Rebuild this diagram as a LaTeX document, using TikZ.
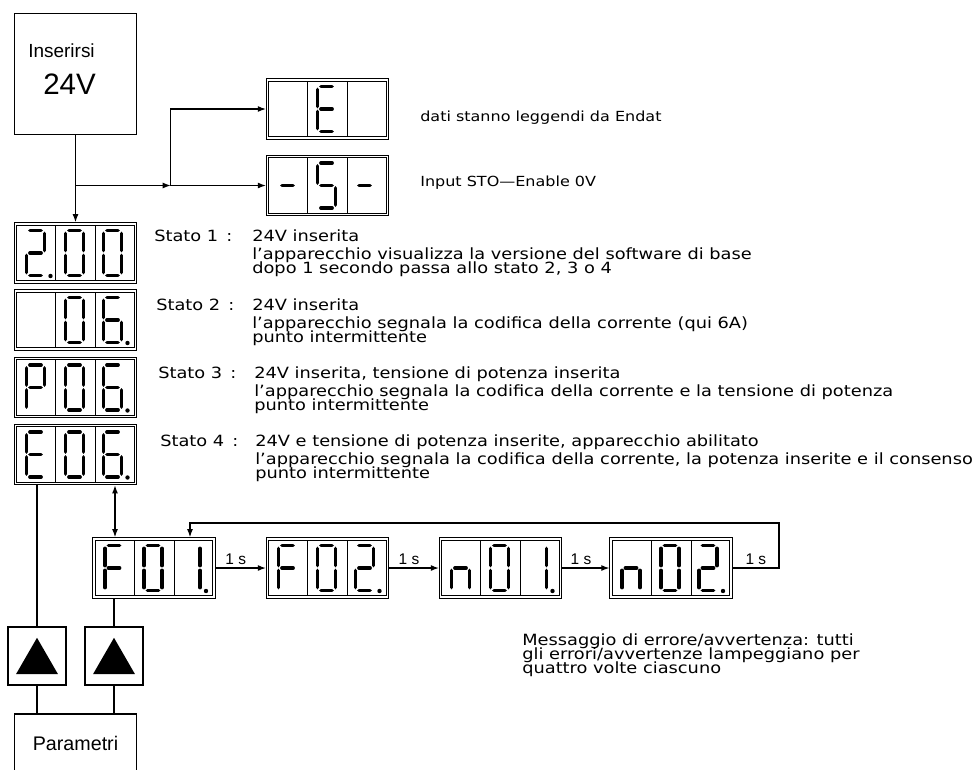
\documentclass[tikz,border=0pt]{standalone}
\usepackage{fontspec}
\setmainfont{Liberation Sans}
\newfontfamily\notefont[FakeStretch=1.15]{DejaVu Sans}
\usetikzlibrary{arrows.meta,calc,shapes.geometric}

% segments of one digit, centre of the digit at the origin
\tikzset{
  segs/.cd,
  a/.code={\draw[segline] (-5.5,-22.5) -- (5.5,-22.5);},
  b/.code={\draw[segline] (9,-19.5) -- (9,-2.5);},
  c/.code={\draw[segline] (9,2.5) -- (9,19.5);},
  d/.code={\draw[segline] (-5.5,22.5) -- (5.5,22.5);},
  e/.code={\draw[segline] (-9,2.5) -- (-9,19.5);},
  f/.code={\draw[segline] (-9,-19.5) -- (-9,-2.5);},
  g/.code={\draw[segline] (-5.5,0) -- (5.5,0);},
  p/.code={\fill (15,23) circle (0.55mm);}
}
\newcommand\segdigit[2]{\begin{scope}[shift={(#1)}]\tikzset{segs/.cd,#2}\end{scope}}
\newcommand\dispfill[4]{%
  \draw[cell] ($(#1.north west)+(3,3)$) rectangle ($(#1.south east)+(-3,-3)$);
  \segdigit{$(#1.center)+(-40,0)$}{#2}
  \segdigit{$(#1.center)+(-1,0)$}{#3}
  \segdigit{$(#1.center)+(37,0)$}{#4}
  \draw[cell] ($(#1.north)+(-20,3)$) -- ($(#1.south)+(-20,-3)$);
  \draw[cell] ($(#1.north)+(20,3)$) -- ($(#1.south)+(20,-3)$);
}

\begin{document}
\begin{tikzpicture}[
    x=0.25mm,y=-0.25mm,
    box/.style={draw, line width=0.9pt, inner sep=0pt},
    display/.style={draw, line width=0.7pt,
      minimum width=30.6mm, minimum height=15.2mm, inner sep=0pt},
    cell/.style={line width=0.7pt},
    segline/.style={line width=2.7pt, line cap=round},
    tri/.style={regular polygon, regular polygon sides=3, fill=black,
      minimum size=12.1mm, inner sep=0pt},
    note/.style={anchor=base west, inner sep=0pt,
      font=\notefont\fontsize{11}{13}\selectfont},
    side/.style={note, font=\notefont\fontsize{9.9}{12}\selectfont},
    secs/.style={font=\fontsize{11}{13}\selectfont, inner sep=2pt},
    edge/.style={-{Latex[length=2mm,width=1.5mm]}, line width=0.8pt},
    both/.style={{Latex[length=2mm,width=1.5mm]}-{Latex[length=2mm,width=1.5mm]},
      line width=0.8pt},
    wire/.style={line width=0.8pt}
  ]
    \useasboundingbox (0,0) rectangle (976,769);

    \node[box, minimum width=30.5mm, minimum height=30.25mm] (power) at (75.5,74) {};
    \node[anchor=base west, inner sep=0pt, font=\fontsize{13.5}{16}\selectfont]
      (ins) at (28,57) {Inserirsi};
    \node[anchor=base west, inner sep=0pt, font=\fontsize{21}{24}\selectfont]
      (volt) at (43,94) {24V};

    \node[display] (dispE) at (327.5,109) {};
    \node[display] (dispS) at (327.5,185.5) {};
    \node[display] (disp1) at (75.5,253) {};
    \node[display] (disp2) at (75.5,320) {};
    \node[display] (disp3) at (75.5,387.5) {};
    \node[display] (disp4) at (75.5,454.5) {};
    \node[display] (F01) at (154,568) {};
    \node[display] (F02) at (327.5,568) {};
    \node[display] (n01) at (500.5,568) {};
    \node[display] (n02) at (671,568) {};

    \dispfill{dispE}{}{a,d,e,f,g}{}
    \dispfill{dispS}{g}{a,f,g,c,d}{g}
    \dispfill{disp1}{a,b,g,e,d,p}{a,b,c,d,e,f}{a,b,c,d,e,f}
    \dispfill{disp2}{}{a,b,c,d,e,f}{a,f,g,e,d,c,p}
    \dispfill{disp3}{a,b,f,g,e}{a,b,c,d,e,f}{a,f,g,e,d,c,p}
    \dispfill{disp4}{a,d,e,f,g}{a,b,c,d,e,f}{a,f,g,e,d,c,p}
    \dispfill{F01}{a,f,g,e}{a,b,c,d,e,f}{b,c,p}
    \dispfill{F02}{a,f,g,e}{a,b,c,d,e,f}{a,b,g,e,d,p}
    \dispfill{n01}{e,g,c}{a,b,c,d,e,f}{b,c,p}
    \dispfill{n02}{e,g,c}{a,b,c,d,e,f}{a,b,g,e,d,p}

    \node[side] (endat) at (420,121) {dati stanno leggendi da Endat};
    \node[side] (sto) at (420,186) {Input STO—Enable 0V};

    \node[note] (st1) at (154,241) {Stato 1 \,:};
    \node[note] (st1a) at (252,241) {24V inserita};
    \node[note] (st1b) at (252,259) {l’apparecchio visualizza la versione del software di base};
    \node[note] (st1c) at (252,273) {dopo 1 secondo passa allo stato 2, 3 o 4};
    \node[note] (st2) at (156,310) {Stato 2 \,:};
    \node[note] (st2a) at (252,310) {24V inserita};
    \node[note] (st2b) at (252,328) {l’apparecchio segnala la codifica della corrente (qui 6A)};
    \node[note] (st2c) at (252,342) {punto intermittente};
    \node[note] (st3) at (158,378) {Stato 3 \,:};
    \node[note] (st3a) at (254,378) {24V inserita, tensione di potenza inserita};
    \node[note] (st3b) at (254,396) {l’apparecchio segnala la codifica della corrente e la tensione di potenza};
    \node[note] (st3c) at (254,410) {punto intermittente};
    \node[note] (st4) at (160,446) {Stato 4 \,:};
    \node[note] (st4a) at (255,446) {24V e tensione di potenza inserite, apparecchio abilitato};
    \node[note] (st4b) at (255,464) {l’apparecchio segnala la codifica della corrente, la potenza inserite e il consenso};
    \node[note] (st4c) at (255,478) {punto intermittente};

    \node[note] (msg1) at (522,645) {Messaggio di errore/avvertenza: tutti};
    \node[note] (msg2) at (522,659) {gli errori/avvertenze lampeggiano per};
    \node[note] (msg3) at (522,673) {quattro volte ciascuno};

    \node[box, minimum size=14.5mm] (btnL) at (37,656) {};
    \node[box, minimum size=14.5mm] (btnR) at (114,656) {};
    \node[tri] (triL) at (37,662) {};
    \node[tri] (triR) at (114,662) {};
    \node[box, minimum width=30.5mm, minimum height=14.5mm,
      font=\fontsize{14}{16}\selectfont] (param) at (75.5,743) {Parametri};

    \coordinate (split) at (power.south |- dispS.west);
    \coordinate (fork) at ($(split)!0.5!(dispS.west)$);
    \coordinate (link) at (115,0);
    \coordinate (loopR) at (779,523);
    \coordinate (loopL) at (190,523);

    \draw[edge] (power) -- (disp1);
    \draw[edge] (split) -- (fork);
    \draw[edge] (fork) -- (dispS);
    \draw[edge] (fork) |- (dispE);

    \draw[both] (disp4.south -| link) -- (F01.north -| link);
    \draw[edge] (F01) -- node[secs, above, pos=0.4] (sec1) {1 s} (F02);
    \draw[edge] (F02) -- node[secs, above, pos=0.4] (sec2) {1 s} (n01);
    \draw[edge] (n01) -- node[secs, above, pos=0.4] (sec3) {1 s} (n02);
    \draw[edge] (n02.east) -| node[secs, above, pos=0.25] (sec4) {1 s} (loopR)
      -- (loopL) -- (loopL |- F01.north);

    \draw[wire] (disp4.south -| btnL) -- (btnL);
    \draw[wire] (F01.south -| btnR) -- (btnR);
    \draw[wire] (btnL) -- (btnL |- param.north);
    \draw[wire] (btnR) -- (btnR |- param.north);
  \end{tikzpicture}
\end{document}
